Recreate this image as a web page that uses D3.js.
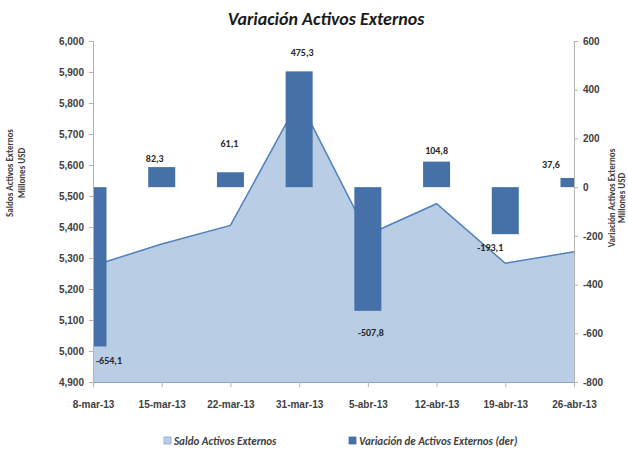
<!DOCTYPE html>
<html>
<head>
<meta charset="utf-8">
<script src="https://cdn.jsdelivr.net/npm/d3@7"></script>
<style>
  body { margin: 0; background: #fff; }
  svg { font-family: Carlito, "Liberation Sans Narrow", "Open Sans", sans-serif; }
</style>
</head>
<body>
<div id="chart"></div>
<script>
const categories = ['8-mar-13', '15-mar-13', '22-mar-13', '31-mar-13', '5-abr-13', '12-abr-13', '19-abr-13', '26-abr-13'];
const saldo = [5275, 5345, 5405, 5810, 5375, 5475, 5283, 5320];
const variacion = [-654.1, 82.3, 61.1, 475.3, -507.8, 104.8, -193.1, 37.6];
const leftTicks = [4900, 5000, 5100, 5200, 5300, 5400, 5500, 5600, 5700, 5800, 5900, 6000];
const rightTicks = [-800, -600, -400, -200, 0, 200, 400, 600];

const width = 628, height = 450;
const margin = {top: 41, right: 54, bottom: 68, left: 93};
const innerW = width - margin.left - margin.right;
const innerH = height - margin.top - margin.bottom;

const svg = d3.select('#chart').append('svg')
  .attr('width', width)
  .attr('height', height);

const x = d3.scalePoint().domain(categories).range([0, innerW]);
const yL = d3.scaleLinear().domain([4900, 6000]).range([innerH, 0]);
const yR = d3.scaleLinear().domain([-800, 600]).range([innerH, 0]);

const fmtL = d3.formatLocale({decimal: ',', thousands: '.', grouping: [3]}).format(',.3f');
const fmtLeft = v => fmtL(v / 1000);
const fmtLbl = d3.formatLocale({decimal: ',', thousands: '.', grouping: [3], minus: '-'}).format('.1f');

svg.append('defs').append('clipPath').attr('id', 'plot')
  .append('rect').attr('width', innerW).attr('height', innerH);

const g = svg.append('g').attr('transform', `translate(${margin.left},${margin.top})`);

// area
const area = d3.area()
  .x((d, i) => x(categories[i]))
  .y0(innerH)
  .y1(d => yL(d));
const line = d3.line()
  .x((d, i) => x(categories[i]))
  .y(d => yL(d));

g.append('path').datum(saldo)
  .attr('d', area)
  .attr('fill', '#b9cde5');
g.append('path').datum(saldo)
  .attr('d', line)
  .attr('fill', 'none')
  .attr('stroke', '#4f81bd')
  .attr('stroke-width', 1.5);

// bars
const barW = 27;
g.append('g').attr('clip-path', 'url(#plot)')
  .selectAll('rect').data(variacion).join('rect')
  .attr('x', (d, i) => x(categories[i]) - barW / 2)
  .attr('y', d => yR(Math.max(0, d)))
  .attr('width', barW)
  .attr('height', d => Math.abs(yR(d) - yR(0)))
  .attr('fill', '#4571a8');

// axes
const axisColor = '#b3b3b3';
const textColor = '#404040';

const axL = g.append('g').call(d3.axisLeft(yL).tickValues(leftTicks).tickFormat(fmtLeft).tickSize(4).tickPadding(5));
const axR = g.append('g').attr('transform', `translate(${innerW},0)`)
  .call(d3.axisRight(yR).tickValues(rightTicks).tickFormat(d => d).tickSize(4).tickPadding(5));
const axB = g.append('g').attr('transform', `translate(0,${innerH})`)
  .call(d3.axisBottom(x).tickSize(5).tickPadding(14));

[axL, axR, axB].forEach(a => {
  a.select('.domain').attr('stroke', axisColor);
  a.selectAll('.tick line').attr('stroke', axisColor);
  a.selectAll('.tick text').attr('fill', textColor)
    .style('font-size', '10px').style('font-weight', 'bold').style('font-family', null);
});
axB.select('.domain').attr('stroke', '#8ea5c8');

// data labels
const nudge = [[16, 14], [-7, -9], [-1, -29], [3, -19], [3, 22], [0, -11], [-15, 13], [-23, -13]];
g.append('g').selectAll('text').data(variacion).join('text')
  .attr('x', (d, i) => x(categories[i]) + nudge[i][0])
  .attr('y', (d, i) => yR(d) + nudge[i][1])
  .attr('dy', '0.35em')
  .attr('text-anchor', 'middle')
  .attr('fill', '#262626')
  .style('font-size', '10px')
  .style('font-weight', 'bold')
  .text(fmtLbl);

// title
svg.append('text')
  .attr('x', 326).attr('y', 25)
  .attr('text-anchor', 'middle')
  .attr('fill', '#1a1a1a')
  .style('font-size', '18px').style('font-weight', 'bold').style('font-style', 'italic')
  .text('Variación Activos Externos');

// axis titles
const leftTitle = svg.append('text')
  .attr('transform', 'translate(13,173) rotate(-90)')
  .attr('text-anchor', 'middle')
  .attr('fill', textColor)
  .style('font-size', '9px').style('font-weight', 'bold');
leftTitle.append('tspan').attr('x', 0).attr('dy', 0).text('Saldos Activos Externos');
leftTitle.append('tspan').attr('x', 0).attr('dy', 12).text('Millones USD');

const rightTitle = svg.append('text')
  .attr('transform', 'translate(615,198) rotate(-90)')
  .attr('text-anchor', 'middle')
  .attr('fill', textColor)
  .style('font-size', '9px').style('font-weight', 'bold');
rightTitle.append('tspan').attr('x', 0).attr('dy', 0).text('Variación Activos Externos');
rightTitle.append('tspan').attr('x', 0).attr('dy', 10).text('Millones USD');

// legend
const legend = [
  {label: 'Saldo Activos Externos', fill: '#b9cde5', stroke: '#8ea5c8', x: 164},
  {label: 'Variación de Activos Externos (der)', fill: '#4571a8', stroke: '#4571a8', x: 349}
];
const lg = svg.append('g').selectAll('g').data(legend).join('g')
  .attr('transform', d => `translate(${d.x},437)`);
lg.append('rect').attr('width', 7).attr('height', 7)
  .attr('fill', d => d.fill).attr('stroke', d => d.stroke).attr('stroke-width', 0.8);
lg.append('text').attr('x', 10).attr('y', 4).attr('dy', '0.35em')
  .attr('fill', textColor)
  .style('font-size', '11px').style('font-style', 'italic').style('font-weight', 'bold')
  .text(d => d.label);
</script>
</body>
</html>
